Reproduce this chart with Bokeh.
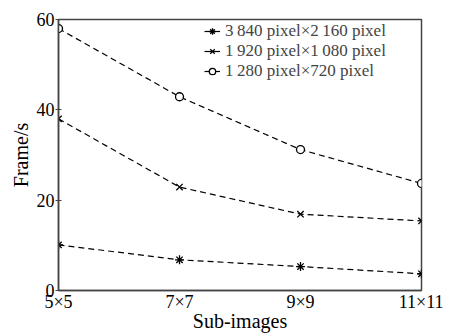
from bokeh.plotting import figure
from bokeh.embed import file_html
from bokeh.resources import INLINE
from bokeh.models import Legend, LegendItem, FixedTicker

categories = ["5×5", "7×7", "9×9", "11×11"]
series_names = ["3\u2009840 pixel×2\u2009160 pixel", "1\u2009920 pixel×1\u2009080 pixel", "1\u2009280 pixel×720 pixel"]
fps_3840 = [10.1, 6.8, 5.3, 3.7]
fps_1920 = [38.0, 22.9, 16.9, 15.4]
fps_1280 = [58.0, 42.9, 31.2, 23.7]
y_ticks = [0, 20, 40, 60]

FONT = "Liberation Serif"
xs = list(range(len(categories)))

p = figure(width=443, height=334, x_range=(0, 3), y_range=(0, 60),
           output_backend="svg", toolbar_location=None,
           min_border_left=58, min_border_right=22, min_border_top=19, min_border_bottom=40)
p.grid.visible = False
p.outline_line_color = "#444444"
p.outline_line_width = 1.5
p.background_fill_color = "white"

p.xaxis.ticker = FixedTicker(ticks=xs)
p.xaxis.major_label_overrides = {i: c for i, c in enumerate(categories)}
p.xaxis.minor_tick_line_color = None
p.yaxis.ticker = FixedTicker(ticks=y_ticks)
p.yaxis.minor_tick_line_color = None
p.yaxis.major_tick_in = 3
p.yaxis.major_tick_out = 3
p.xaxis.major_tick_in = 0
p.xaxis.major_tick_out = 0
for ax in (p.xaxis, p.yaxis):
    ax.axis_line_color = "#444444"
    ax.axis_line_width = 1.5
    ax.major_label_text_font = FONT
    ax.major_label_text_font_size = "18px"
    ax.major_label_text_color = "black"
    ax.axis_label_text_font = FONT
    ax.axis_label_text_font_size = "20px"
    ax.axis_label_text_font_style = "normal"
    ax.axis_label_text_color = "black"
p.yaxis.major_tick_line_color = "#444444"
p.xaxis.major_tick_line_color = None
p.xaxis.major_label_standoff = 1
p.yaxis.major_label_standoff = 1
p.xaxis.axis_label = "Sub-images"
p.yaxis.axis_label = "Frame/s"
p.xaxis.axis_label_standoff = -5
p.yaxis.axis_label_standoff = 2

for vals, marker, sz in zip([fps_3840, fps_1920, fps_1280], ["asterisk", "x", "circle"], [9, 9, 8]):
    p.line(xs, vals, line_color="black", line_dash="6 4", line_width=1.2)
    p.scatter(xs, vals, marker=marker, size=sz, line_color="black", fill_color="white", line_width=1.3)

leg_items = []
for name, marker, sz in zip(series_names, ["asterisk", "x", "circle"], [9, 9, 8]):
    l = p.line([0], [0], line_color="black", line_width=1.2, visible=False)
    s = p.scatter([0], [0], marker=marker, size=sz, line_color="black", fill_color="white", line_width=1.3, visible=False)
    leg_items.append(LegendItem(label=name, renderers=[l, s]))

legend = Legend(items=leg_items, location=(146, 209))
legend.border_line_color = None
legend.background_fill_alpha = 0
legend.label_text_font = FONT
legend.label_text_font_size = "17px"
legend.label_height = 18
legend.glyph_height = 18
legend.glyph_width = 16
legend.spacing = 0
legend.padding = 2
legend.margin = 0
legend.label_standoff = 5
p.add_layout(legend)

open("out.html", "w").write(file_html(p, INLINE))
